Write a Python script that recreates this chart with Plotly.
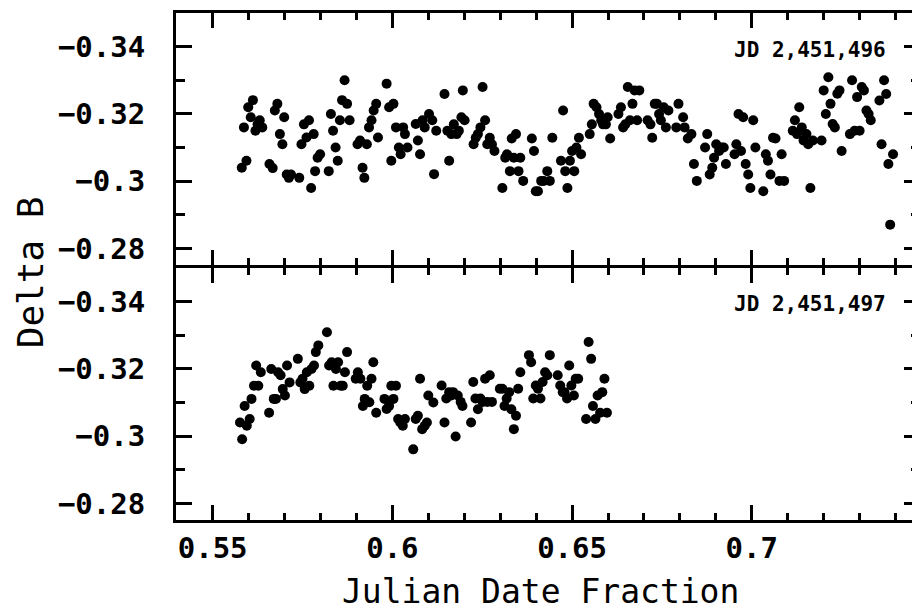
import plotly.graph_objects as go

# ---- data: JD 2,451,496 (top panel) ----
x_top = [0.5581, 0.5587, 0.5594, 0.5599, 0.5606, 0.5612, 0.5619, 0.5625, 0.5631, 0.5638,
         0.5658, 0.5667, 0.5673, 0.5680, 0.5687, 0.5694, 0.5699, 0.5706, 0.5712, 0.5718,
         0.5741, 0.5747, 0.5754, 0.5761, 0.5768, 0.5774, 0.5781, 0.5785, 0.5792, 0.5799,
         0.5823, 0.5829, 0.5835, 0.5842, 0.5848, 0.5854, 0.5860, 0.5867, 0.5874, 0.5881,
         0.5903, 0.5910, 0.5917, 0.5922, 0.5929, 0.5935, 0.5942, 0.5948, 0.5955, 0.5960,
         0.5984, 0.5991, 0.5997, 0.6003, 0.6010, 0.6018, 0.6023, 0.6030, 0.6035, 0.6042,
         0.6065, 0.6071, 0.6077, 0.6084, 0.6090, 0.6102,
         0.6111, 0.6116, 0.6122, 0.6145, 0.6153, 0.6158, 0.6164, 0.6171, 0.6179, 0.6185,
         0.6192, 0.6196, 0.6201, 0.6226, 0.6232, 0.6238, 0.6245, 0.6251, 0.6258, 0.6264,
         0.6271, 0.6277, 0.6284, 0.6306, 0.6314, 0.6319, 0.6327, 0.6332, 0.6338, 0.6344,
         0.6351, 0.6356, 0.6364, 0.6388, 0.6394, 0.6399, 0.6405, 0.6414, 0.6421, 0.6431,
         0.6438, 0.6445, 0.6469, 0.6475, 0.6481, 0.6487, 0.6494, 0.6500, 0.6506, 0.6512,
         0.6519, 0.6525, 0.6549, 0.6555, 0.6560, 0.6568, 0.6575, 0.6581, 0.6586, 0.6594,
         0.6599, 0.6606, 0.6629, 0.6636, 0.6642, 0.6648, 0.6655, 0.6661, 0.6668, 0.6674,
         0.6681, 0.6687, 0.6710, 0.6718, 0.6723, 0.6730, 0.6736, 0.6742, 0.6747, 0.6755,
         0.6761, 0.6768, 0.6790, 0.6796,
         0.6809, 0.6813, 0.6822, 0.6832, 0.6839, 0.6847, 0.6870, 0.6876, 0.6883, 0.6890,
         0.6895, 0.6901, 0.6909, 0.6916, 0.6922, 0.6928, 0.6952, 0.6957, 0.6963, 0.6970,
         0.6976, 0.6983, 0.6990, 0.6996, 0.7004, 0.7010, 0.7032, 0.7039, 0.7045, 0.7052,
         0.7059, 0.7066, 0.7077, 0.7083, 0.7090, 0.7114, 0.7120, 0.7126, 0.7132, 0.7139,
         0.7144, 0.7152, 0.7157, 0.7163, 0.7170, 0.7194, 0.7200, 0.7206, 0.7213, 0.7219,
         0.7225, 0.7231, 0.7238, 0.7244, 0.7250, 0.7273, 0.7279, 0.7286, 0.7293, 0.7300,
         0.7306, 0.7312, 0.7319, 0.7325, 0.7331, 0.7355, 0.7361, 0.7368, 0.7374, 0.7380,
         0.7385, 0.7393]
y_top = [-0.3040, -0.3160, -0.3061, -0.3220, -0.3190, -0.3241, -0.3150, -0.3169, -0.3181, -0.3160,
         -0.3051, -0.3039, -0.3210, -0.3230, -0.3140, -0.3110, -0.3190, -0.3020, -0.3010, -0.3020,
         -0.3010, -0.3110, -0.3169, -0.3130, -0.3181, -0.2980, -0.3140, -0.3030, -0.3070, -0.3080,
         -0.3030, -0.3200, -0.3150, -0.3100, -0.3061, -0.3181, -0.3241, -0.3300, -0.3230, -0.3181,
         -0.3110, -0.3121, -0.3040, -0.3010, -0.3110, -0.3160, -0.3181, -0.3210, -0.3230, -0.3130,
         -0.3290, -0.3220, -0.3061, -0.3230, -0.3160, -0.3100, -0.3080, -0.3160, -0.3140, -0.3100,
         -0.3170, -0.3121, -0.3080, -0.3181, -0.3160, -0.3200,
         -0.3181, -0.3021, -0.3150, -0.3259, -0.3150, -0.3061, -0.3140, -0.3169, -0.3140, -0.3150,
         -0.3190, -0.3270, -0.3181, -0.3110, -0.3129, -0.3140, -0.3160, -0.3280, -0.3181, -0.3110,
         -0.3129, -0.3110, -0.3090, -0.2980, -0.3070, -0.3080, -0.3030, -0.3127, -0.3070, -0.3140,
         -0.3030, -0.3070, -0.3001, -0.3127, -0.3090, -0.2970, -0.2970, -0.3001, -0.3001, -0.3030,
         -0.3001, -0.3129, -0.3061, -0.3210, -0.3030, -0.2980, -0.3061, -0.3090, -0.3030, -0.3100,
         -0.3129, -0.3080, -0.3140, -0.3169, -0.3230, -0.3220, -0.3200, -0.3181, -0.3169, -0.3169,
         -0.3190, -0.3127, -0.3200, -0.3220, -0.3160, -0.3169, -0.3280, -0.3181, -0.3230, -0.3270,
         -0.3181, -0.3270, -0.3181, -0.3169, -0.3129, -0.3230, -0.3230, -0.3200, -0.3181, -0.3220,
         -0.3160, -0.3210, -0.3160, -0.3230,
         -0.3190, -0.3160, -0.3127, -0.3140, -0.3051, -0.3001, -0.3100, -0.3140, -0.3020, -0.3040,
         -0.3070, -0.3110, -0.3090, -0.3100, -0.3100, -0.3051, -0.3080, -0.3110, -0.3200, -0.3090,
         -0.3190, -0.3051, -0.3020, -0.2980, -0.3181, -0.3100, -0.2970, -0.3080, -0.3061, -0.3020,
         -0.3129, -0.3127, -0.3001, -0.3080, -0.3001, -0.3150, -0.3181, -0.3140, -0.3220, -0.3160,
         -0.3121, -0.3140, -0.3110, -0.2980, -0.3121, -0.3121, -0.3270, -0.3200, -0.3309, -0.3230,
         -0.3170, -0.3160, -0.3260, -0.3270, -0.3090, -0.3140, -0.3300, -0.3150, -0.3250, -0.3150,
         -0.3280, -0.3270, -0.3210, -0.3200, -0.3181, -0.3240, -0.3110, -0.3300, -0.3259, -0.3051,
         -0.2871, -0.3080]

# ---- data: JD 2,451,497 (bottom panel) ----
x_bot = [0.5576, 0.5582, 0.5589, 0.5595, 0.5603, 0.5608, 0.5615, 0.5621, 0.5627, 0.5634,
         0.5657, 0.5663, 0.5670, 0.5676, 0.5682, 0.5689, 0.5695, 0.5701, 0.5707, 0.5714,
         0.5737, 0.5744, 0.5750, 0.5756, 0.5762, 0.5769, 0.5775, 0.5782, 0.5787, 0.5794,
         0.5818, 0.5824, 0.5831, 0.5836, 0.5843, 0.5849, 0.5856, 0.5862, 0.5868, 0.5874,
         0.5898, 0.5904, 0.5911, 0.5918, 0.5923, 0.5930, 0.5936, 0.5942, 0.5947, 0.5955,
         0.5978, 0.5984, 0.5991, 0.5997, 0.6003, 0.6010, 0.6016, 0.6022, 0.6029, 0.6035,
         0.6058, 0.6065, 0.6071, 0.6077, 0.6083, 0.6090, 0.6096, 0.6100,
         0.6114, 0.6137, 0.6145, 0.6150, 0.6158, 0.6164, 0.6169, 0.6176, 0.6182, 0.6190,
         0.6195, 0.6219, 0.6225, 0.6231, 0.6238, 0.6245, 0.6251, 0.6258, 0.6264, 0.6271,
         0.6277, 0.6299, 0.6306, 0.6312, 0.6318, 0.6325, 0.6331, 0.6338, 0.6344, 0.6350,
         0.6356, 0.6380, 0.6386, 0.6392, 0.6399, 0.6405, 0.6412, 0.6418, 0.6425, 0.6431,
         0.6438, 0.6460, 0.6467, 0.6474, 0.6479, 0.6486, 0.6492, 0.6498, 0.6505, 0.6510,
         0.6517, 0.6539, 0.6546, 0.6553, 0.6558, 0.6565, 0.6571, 0.6578, 0.6584, 0.6590,
         0.6597]
y_bot = [-0.3041, -0.2991, -0.3090, -0.3031, -0.3051, -0.3111, -0.3150, -0.3210, -0.3150, -0.3190,
         -0.3070, -0.3200, -0.3111, -0.3111, -0.3190, -0.3181, -0.3140, -0.3121, -0.3210, -0.3160,
         -0.3230, -0.3160, -0.3171, -0.3140, -0.3190, -0.3150, -0.3200, -0.3210, -0.3250, -0.3270,
         -0.3309, -0.3210, -0.3220, -0.3150, -0.3200, -0.3220, -0.3150, -0.3150, -0.3190, -0.3250,
         -0.3171, -0.3190, -0.3171, -0.3090, -0.3111, -0.3150, -0.3101, -0.3171, -0.3220, -0.3070,
         -0.3111, -0.3081, -0.3090, -0.3150, -0.3111, -0.3150, -0.3051, -0.3041, -0.3031, -0.3051,
         -0.2961, -0.3051, -0.3061, -0.3171, -0.3021, -0.3031, -0.3041, -0.3121,
         -0.3100, -0.3151, -0.3041, -0.3112, -0.3131, -0.3121, -0.3131, -0.2999, -0.3121, -0.3102,
         -0.3090, -0.3041, -0.3161, -0.3112, -0.3080, -0.3112, -0.3102, -0.3171, -0.3102, -0.3181,
         -0.3102, -0.3141, -0.3141, -0.3090, -0.3112, -0.3131, -0.3080, -0.3021, -0.3061, -0.3141,
         -0.3190, -0.3241, -0.3220, -0.3112, -0.3151, -0.3141, -0.3112, -0.3161, -0.3190, -0.3181,
         -0.3241, -0.3181, -0.3151, -0.3131, -0.3131, -0.3112, -0.3210, -0.3151, -0.3121, -0.3171,
         -0.3171, -0.3051, -0.3280, -0.3230, -0.3090, -0.3051, -0.3121, -0.3070, -0.3131, -0.3171,
         -0.3070]

x_tick_vals = [0.55, 0.60, 0.65, 0.70]
x_tick_text = ["0.55", "0.6", "0.65", "0.7"]
y_tick_vals = [-0.34, -0.32, -0.30, -0.28]
y_tick_text = ["\u22120.34", "\u22120.32", "\u22120.3", "\u22120.28"]
panel_labels = ["JD 2,451,496", "JD 2,451,497"]
x_title = "Julian Date Fraction"
y_title = "Delta B"

X_RANGE = [0.5398, 0.7468]
Y_RANGE = [-0.2751, -0.3500]

fig = go.Figure()
mk = dict(color="black", size=10, line=dict(width=0))
fig.add_trace(go.Scatter(x=x_top, y=y_top, mode="markers", marker=mk,
                         xaxis="x2", yaxis="y", showlegend=False))
fig.add_trace(go.Scatter(x=x_bot, y=y_bot, mode="markers", marker=mk,
                         xaxis="x", yaxis="y2", showlegend=False))

MONO = "DejaVu Sans Mono"
tick_font = dict(family=MONO, size=29, color="black", weight="bold")

xcommon = dict(range=X_RANGE, showline=True, linewidth=3, linecolor="black",
               mirror="allticks", ticks="inside", ticklen=15, tickwidth=2.5,
               tickcolor="black", tickvals=x_tick_vals, showgrid=False, zeroline=False,
               automargin=False,
               minor=dict(dtick=0.01, tick0=0.55, ticks="inside", ticklen=7,
                          tickwidth=2.5, tickcolor="black", showgrid=False))
ycommon = dict(range=Y_RANGE, showline=True, linewidth=3, linecolor="black",
               mirror="allticks", ticks="inside", ticklen=16, tickwidth=2.5,
               tickcolor="black", tickvals=y_tick_vals, ticktext=y_tick_text,
               tickfont=tick_font, ticklabelstandoff=22, showgrid=False, zeroline=False,
               automargin=False,
               minor=dict(dtick=0.01, tick0=-0.34, ticks="inside", ticklen=9,
                          tickwidth=2.5, tickcolor="black", showgrid=False))

GAP = 3.0 / 507 / 2
# the page body adds an 8px offset, so the figure is 8px smaller than the window
fig.update_layout(
    width=912, height=604,
    margin=dict(l=168, r=0, t=5, b=92),
    paper_bgcolor="white", plot_bgcolor="white",
    xaxis=dict(**xcommon, anchor="y2", domain=[0, 1], ticktext=x_tick_text,
               tickfont=tick_font, ticklabelstandoff=0),
    xaxis2=dict(**xcommon, anchor="y", domain=[0, 1], matches="x",
                showticklabels=False),
    yaxis=dict(**ycommon, anchor="x2", domain=[0.5 + GAP, 1]),
    yaxis2=dict(**ycommon, anchor="x", domain=[0, 0.5 - GAP]),
)

ann_font = dict(family=MONO, size=21, color="black", weight="bold")
fig.add_annotation(text=panel_labels[0], xref="paper", yref="paper", x=0.852, y=0.927,
                   showarrow=False, font=ann_font, xanchor="center", yanchor="middle")
fig.add_annotation(text=panel_labels[1], xref="paper", yref="paper", x=0.852, y=0.426,
                   showarrow=False, font=ann_font, xanchor="center", yanchor="middle")
fig.add_annotation(text=x_title, xref="paper", yref="paper", x=0.49, y=-0.141,
                   showarrow=False, font=dict(family=MONO, size=33, color="black"),
                   xanchor="center", yanchor="middle")
fig.add_annotation(text=y_title, xref="paper", yref="paper", x=-0.196, y=0.489,
                   showarrow=False, font=dict(family=MONO, size=36, color="black"),
                   xanchor="center", yanchor="middle", textangle=-90)

fig.write_html("out.html")
